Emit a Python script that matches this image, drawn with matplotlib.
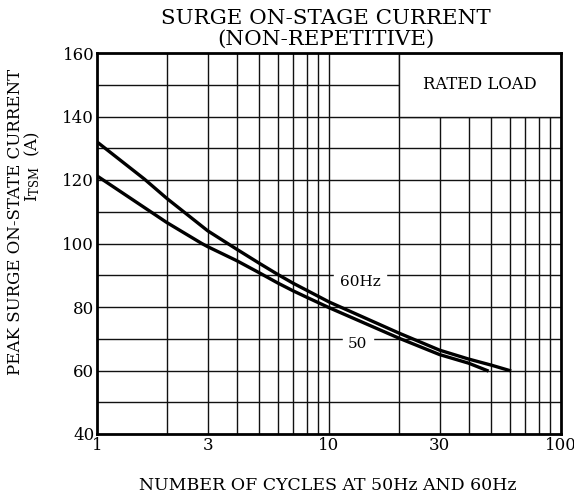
import numpy as np
import matplotlib
matplotlib.use("Agg")
import matplotlib.pyplot as plt
from matplotlib.patches import Rectangle

# curve data
cycles_60 = [1, 1.6, 2, 3, 4, 5, 6, 7, 8, 10, 20, 30, 40, 50, 60]
amps_60 = [132, 120.3, 114.2, 104, 98.2, 93.8, 90.3, 87.5, 85.3, 81.6,
           71.8, 66.4, 63.6, 61.7, 60]
cycles_50 = [1, 2, 2.83, 3, 4, 5, 6, 7, 8, 10, 20, 30, 40, 48]
amps_50 = [121.3, 106.6, 100, 99, 94.6, 90.8, 87.6, 85.1, 83.1, 79.8,
           70.2, 65, 62.3, 60]

x_ticks = [1, 3, 10, 30, 100]
x_grid = [2, 3, 4, 5, 6, 7, 8, 9, 10, 20, 30, 40, 50, 60, 70, 80, 90]
y_ticks = [40, 60, 80, 100, 120, 140, 160]
y_grid = [50, 60, 70, 80, 90, 100, 110, 120, 130, 140, 150]

plt.rcParams['font.family'] = ['DejaVu Serif']

fig = plt.figure(figsize=(5.74, 4.97), dpi=100)
ax = fig.add_axes([97 / 574, 1 - 434 / 497, 464 / 574, 381 / 497])

ax.set_xscale('log')
ax.set_xlim(1, 100)
ax.set_ylim(40, 160)

# grid
for g in x_grid:
    ax.plot([g, g], [40, 160], color='#111111', lw=1.0, zorder=1)
for g in y_grid:
    ax.plot([1, 100], [g, g], color='#111111', lw=1.0, zorder=1)

# blank box for the legend text
ax.add_patch(Rectangle((20, 140), 80, 20, facecolor='white', edgecolor='#111111',
                       lw=1.0, zorder=2))
ax.text(np.sqrt(20 * 100), 150, 'RATED LOAD', ha='center', va='center',
        fontsize=11.8, zorder=3)

# curves
ax.plot(cycles_60, amps_60, color='black', lw=2.4, zorder=4,
        solid_joinstyle='round')
ax.plot(cycles_50, amps_50, color='black', lw=2.4, zorder=4,
        solid_joinstyle='round')
ax.text(13.6, 88, '60Hz', ha='center', va='center', fontsize=11,
        backgroundcolor='white', zorder=5)
ax.text(13.3, 68.4, '50', ha='center', va='center', fontsize=11,
        backgroundcolor='white', zorder=5)

ax.set_xticks(x_ticks)
ax.set_xticklabels([str(t) for t in x_ticks])
ax.xaxis.set_minor_locator(matplotlib.ticker.NullLocator())
ax.set_yticks(y_ticks)
ax.tick_params(length=0, labelsize=12, pad=2)
for s in ax.spines.values():
    s.set_linewidth(2)
    s.set_zorder(6)

fig.text(328 / 574, 1 - 485 / 497, 'NUMBER OF CYCLES AT 50Hz AND 60Hz',
         ha='center', va='center', fontsize=12.5)
fig.text(16 / 574, 1 - 222 / 497, 'PEAK SURGE ON-STATE CURRENT',
         ha='center', va='center', rotation=90, fontsize=12)
fig.text(32 / 574, 1 - 166 / 497, r'$\mathregular{I_{TSM}}$  (A)',
         ha='center', va='center', rotation=90, fontsize=12)

fig.text(326 / 574, 1 - 18 / 497, 'SURGE ON-STAGE CURRENT',
         ha='center', va='center', fontsize=15.4)
fig.text(326 / 574, 1 - 39 / 497, '(NON-REPETITIVE)',
         ha='center', va='center', fontsize=15.4)

fig.savefig('out.png', dpi=100)
